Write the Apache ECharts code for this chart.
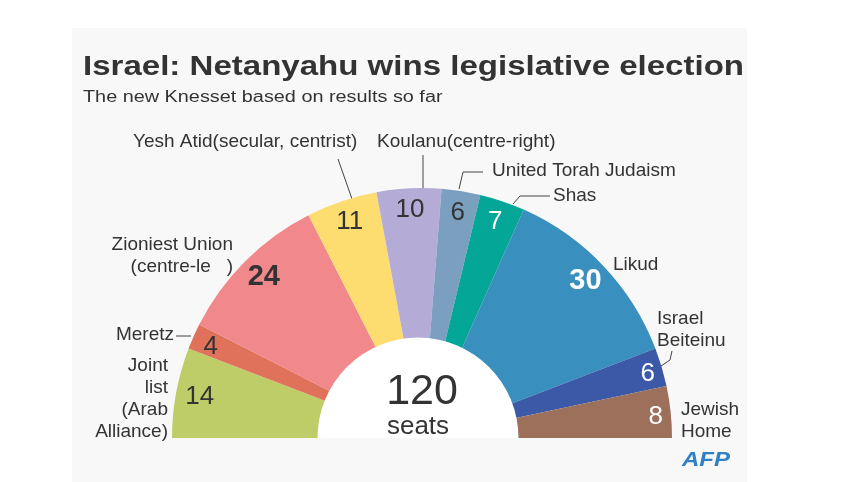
<!DOCTYPE html>
<html>
<head>
<meta charset="utf-8">
<script src="https://cdn.jsdelivr.net/npm/echarts@6/dist/echarts.min.js"></script>
<style>
  html, body { margin: 0; padding: 0; background: #fff; }
  #chart { width: 857px; height: 482px; }
</style>
</head>
<body>
<div id="chart"></div>
<script>
// party names as printed, left to right round the arc
const parties = [
  'Joint\nlist\n(Arab\nAlliance)',
  'Meretz',
  'Zioniest Union\n(centre-le   )',
  'Yesh Atid(secular, centrist)',
  'Koulanu(centre-right)',
  'United Torah Judaism',
  'Shas',
  'Likud',
  'Israel\nBeiteinu',
  'Jewish\nHome'
];
const seats = [14, 4, 24, 11, 10, 6, 7, 30, 6, 8];
const partyColors = ['#bfcd69', '#e0715a', '#f1888b', '#fddd70', '#b4abd6', '#7ba0bf', '#04a697', '#398fbd', '#3c59a7', '#9d705b'];
const numberColors = ['#333', '#333', '#333', '#333', '#333', '#333', '#fff', '#fff', '#fff', '#fff'];
const boldNumbers = [false, false, true, false, false, false, false, true, false, false];

// where the party names sit, and their leader lines
const nameSpots = [
  { x: 168, y: 399, align: 'right' },
  { x: 174, y: 335, align: 'right', line: [[176, 336], [191, 336]] },
  { x: 233, y: 256, align: 'right' },
  { x: 133, y: 142, align: 'left', line: [[338, 159], [352, 199]] },
  { x: 377, y: 142, align: 'left', line: [[423, 155], [423, 189]] },
  { x: 492, y: 171, align: 'left', line: [[483, 172], [463, 172], [459, 189]] },
  { x: 553, y: 196, align: 'left', line: [[550, 196], [520, 196], [513, 204]] },
  { x: 613, y: 265, align: 'left' },
  { x: 657, y: 330, align: 'left', line: [[672, 351], [670, 360], [661, 366]] },
  { x: 681, y: 421, align: 'left' }
];
// small nudges for the seat numbers near the right edge
const numberNudge = [[2, 0], [-3, 2], [3, 0], [1, 0], [0, 0], [0, 0], [0, 0], [-2, 0], [7, 1], [7, 3]];

const FONT = '"Liberation Sans", Arial, Helvetica, sans-serif';
const total = seats.reduce((a, b) => a + b, 0);

const chart = echarts.init(document.getElementById('chart'));

const option = {
  backgroundColor: '#fff',
  animation: false,
  graphic: [
    { type: 'rect', z: -10, shape: { x: 72, y: 28, width: 675, height: 460 }, style: { fill: '#f8f8f8' } },
    {
      type: 'text', x: 83, y: 67, scaleX: 1.18, originX: 0,
      style: { text: 'Israel: Netanyahu wins legislative election', font: 'bold 28px ' + FONT, fill: '#333', verticalAlign: 'middle', align: 'left' }
    },
    {
      type: 'text', x: 83, y: 98, scaleX: 1.24, originX: 0,
      style: { text: 'The new Knesset based on results so far', font: '16px ' + FONT, fill: '#333', verticalAlign: 'middle', align: 'left' }
    },
    {
      type: 'text', x: 422, y: 392, z: 10,
      style: { text: String(total), font: '43px ' + FONT, fill: '#333', align: 'center', verticalAlign: 'middle' }
    },
    {
      type: 'text', x: 418, y: 427, z: 10,
      style: { text: 'seats', font: '26px ' + FONT, fill: '#333', align: 'center', verticalAlign: 'middle' }
    },
    {
      type: 'text', x: 682, y: 460, scaleX: 1.2, originX: 0,
      style: { text: 'AFP', font: 'italic 900 20px ' + FONT, fill: '#2f80c4', align: 'left', verticalAlign: 'middle' }
    }
  ],
  series: [
    {
      // coloured seats with party names
      type: 'pie',
      center: [422, 438],
      radius: [90, 250],
      startAngle: 180,
      endAngle: 0,
      silent: true,
      z: 2,
      itemStyle: { borderWidth: 0 },
      label: {
        show: true,
        position: 'outside',
        formatter: p => parties[p.dataIndex],
        color: '#333',
        fontSize: 19,
        lineHeight: 22,
        fontFamily: FONT,
        width: 400,
        overflow: 'none'
      },
      labelLine: { show: true, smooth: false, lineStyle: { color: '#444', width: 1 } },
      labelLayout: function (p) {
        const s = nameSpots[p.dataIndex];
        const out = { x: s.x, y: s.y, align: s.align, verticalAlign: 'middle' };
        if (s.line) out.labelLinePoints = s.line;
        return out;
      },
      data: seats.map((v, i) => ({
        value: v,
        name: parties[i],
        itemStyle: { color: partyColors[i] },
        labelLine: { show: !!nameSpots[i].line }
      }))
    },
    {
      // white hole in the middle
      type: 'pie',
      center: [418, 438],
      radius: [0, 100.5],
      startAngle: 180,
      endAngle: 0,
      silent: true,
      z: 3,
      label: { show: false },
      labelLine: { show: false },
      data: [{ value: total, itemStyle: { color: '#fff' } }]
    },
    {
      // seat counts
      type: 'pie',
      center: [422, 438],
      radius: [200, 250],
      startAngle: 180,
      endAngle: 0,
      silent: true,
      z: 4,
      itemStyle: { color: 'rgba(0,0,0,0)' },
      label: {
        show: true,
        position: 'inside',
        formatter: '{c}',
        fontSize: 26,
        fontFamily: FONT
      },
      labelLine: { show: false },
      data: seats.map((v, i) => ({
        value: v,
        label: {
          color: numberColors[i],
          fontWeight: boldNumbers[i] ? 'bold' : 'normal',
          fontSize: boldNumbers[i] ? 29 : 26,
          offset: numberNudge[i]
        }
      }))
    }
  ]
};

chart.setOption(option);
</script>
</body>
</html>
